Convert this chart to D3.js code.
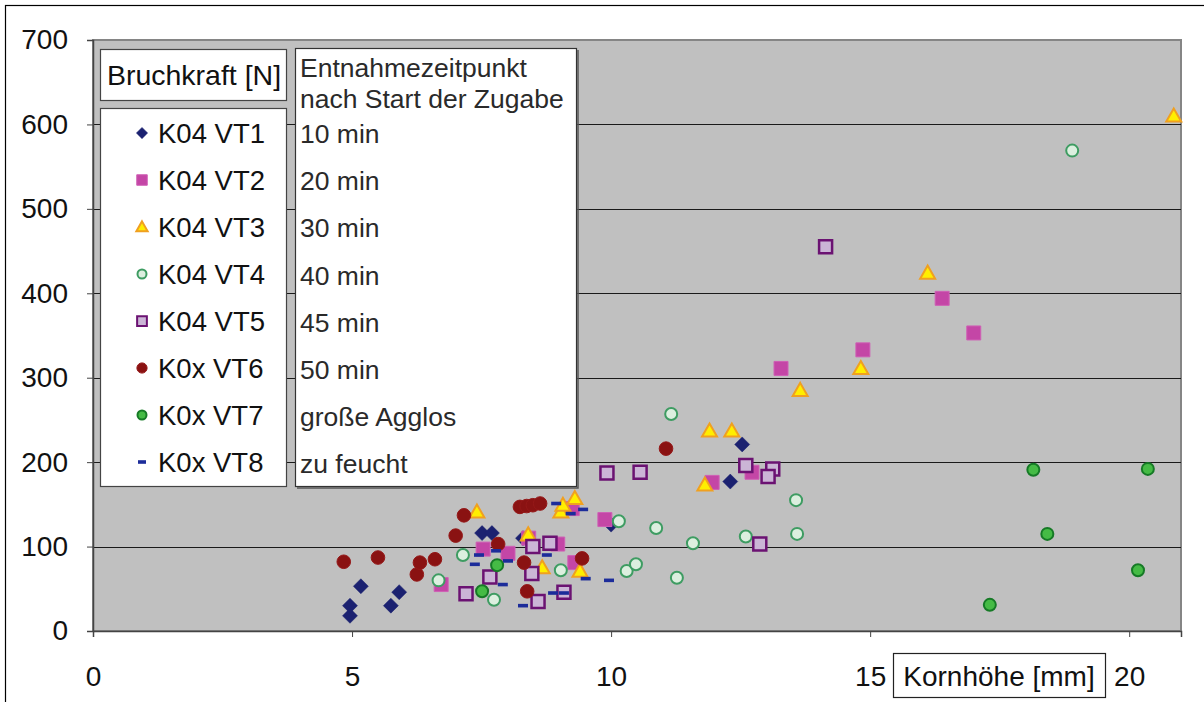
<!DOCTYPE html>
<html><head><meta charset="utf-8">
<script src="https://cdn.jsdelivr.net/npm/d3@7"></script>
<style>body{margin:0;background:#fff}svg{display:block;font-family:"Liberation Sans",Arial,sans-serif}</style>
</head><body><svg id="c" width="1204" height="702"></svg>
<script>
// ---- data ----
const seriesNames = ["K04 VT1","K04 VT2","K04 VT3","K04 VT4","K04 VT5","K0x VT6","K0x VT7","K0x VT8"];
const timeLabels = ["10 min","20 min","30 min","40 min","45 min","50 min","große Agglos","zu feucht"];
const boxTitle = ["Entnahmezeitpunkt","nach Start der Zugabe"];
const yTitle = "Bruchkraft [N]";
const xTitle = "Kornhöhe [mm]";
const xTicks = [0,5,10,15,20];
const yTicks = [0,100,200,300,400,500,600,700];

const vt1 = [[4.96,18],[4.96,30],[5.17,53],[5.75,30],[5.91,46],[7.51,116],[7.70,116],[8.30,110],[10.0,126],[12.30,177],[12.53,221]];
const vt2 = [[6.72,55],[7.53,97],[8.01,92],[8.41,110],[8.97,103],[9.25,145],[9.30,81],[9.88,132],[11.95,176],[12.72,188],[13.28,311],[14.86,333],[16.39,394],[17.00,353]];
const vt3 = [[7.41,141],[8.40,114],[8.67,75],[9.03,141],[9.07,149],[9.30,157],[9.40,71],[11.81,173],[11.90,237],[12.33,237],[13.65,285],[14.82,311],[16.11,424],[20.86,610]];
const vt4 = [[6.67,60],[7.14,90],[7.74,37],[9.03,72],[10.15,130],[10.30,71],[10.48,79],[10.87,122],[11.16,257],[11.27,63],[11.58,104],[12.60,112],[13.57,155],[13.59,115],[18.90,569]];
const vt5 = [[7.20,44],[7.66,64],[8.47,68],[8.49,100],[8.82,104],[8.59,35],[9.09,46],[9.92,187],[10.56,188],[12.60,196],[13.12,192],[13.03,183],[12.87,103],[14.14,455]];
const vt6 = [[4.84,82],[5.50,87],[6.25,67],[6.31,81],[6.60,85],[7.00,113],[7.16,137],[7.82,103],[8.32,81],[8.38,47],[9.44,86],[8.24,147],[8.37,148],[8.49,149],[8.63,151],[11.06,216]];
const vt7 = [[7.80,78],[7.51,47],[17.31,31],[18.15,191],[18.42,115],[20.36,192],[20.17,72]];
const vt8 = [[8.94,151],[9.22,139],[9.46,144],[7.45,90],[7.37,79],[7.78,95],[8.01,83],[7.91,55],[8.76,90],[8.88,45],[9.09,45],[8.30,30],[9.51,62],[9.96,60]];

const seriesData = [vt1,vt2,vt3,vt4,vt5,vt6,vt7,vt8];
const styles = [
  {shape:"diamond", size:7.5, fill:"#1b2170", stroke:"#1b2170", sw:0.5},
  {shape:"square", size:7, fill:"#c446a6", stroke:"#cf5fb5", sw:1},
  {shape:"triangle", size:7.5, fill:"#ffee00", stroke:"#f0a020", sw:2},
  {shape:"circle", size:6, fill:"#dcefdf", stroke:"#3e9c62", sw:2},
  {shape:"square", size:6.5, fill:"#cbb5d6", stroke:"#6b1272", sw:2.5},
  {shape:"circle", size:6.8, fill:"#8a1212", stroke:"#951818", sw:1},
  {shape:"circle", size:6, fill:"#45bb45", stroke:"#167a26", sw:2},
  {shape:"dash", size:5, fill:"#1c2c9a", stroke:"none", sw:0}
];

function shapePath(shape, s){
  if(shape==="diamond") return `M0,${-s}L${s},0L0,${s}L${-s},0Z`;
  if(shape==="square") return `M${-s},${-s}H${s}V${s}H${-s}Z`;
  if(shape==="triangle") return `M0,${-s}L${s},${s*0.75}L${-s},${s*0.75}Z`;
  if(shape==="circle") return d3.symbol(d3.symbolCircle, Math.PI*s*s)();
  if(shape==="dash") return `M${-s},-1.8H${s}V1.8H${-s}Z`;
}

const svg = d3.select("#c");
// outer frame
svg.append("rect").attr("x",5.5).attr("y",5.5).attr("width",1210).attr("height",710)
  .attr("fill","#fff").attr("stroke","#000").attr("stroke-width",1.2);

const x = d3.scaleLinear().domain([0,21]).range([93,1181]);
const y = d3.scaleLinear().domain([0,700]).range([631,40]);

// plot background
svg.append("rect").attr("x",x(0)).attr("y",y(700)).attr("width",x(21)-x(0)).attr("height",y(0)-y(700))
  .attr("fill","#c0c0c0").attr("stroke","#858585").attr("stroke-width",2);

// gridlines
svg.append("g").selectAll("line").data(yTicks.filter(d=>d>0&&d<700)).join("line")
  .attr("x1",x(0)).attr("x2",x(21)).attr("y1",d=>Math.round(y(d))+0.5).attr("y2",d=>Math.round(y(d))+0.5)
  .attr("stroke","#1a1a1a").attr("stroke-width",1);

// axes
const yAxis = d3.axisLeft(y).tickValues(yTicks).tickSize(6).tickPadding(19).tickFormat(d3.format("d"));
const gy = svg.append("g").attr("transform",`translate(${x(0)},0)`).call(yAxis);
const xAxis = d3.axisBottom(x).tickValues(xTicks).tickSize(6).tickPadding(22).tickFormat(d3.format("d"));
const gx = svg.append("g").attr("transform",`translate(0,${y(0)})`).call(xAxis);
[gy,gx].forEach(g=>{
  g.select(".domain").attr("stroke","#444").attr("stroke-width",1.5);
  g.selectAll(".tick line").attr("stroke","#444");
  g.selectAll(".tick text").attr("font-size",28).attr("fill","#111")
   .attr("font-family","'Liberation Sans',Arial,sans-serif");
});
gx.selectAll(".tick text").attr("dy","0.95em");

// points
seriesData.forEach((data,i)=>{
  const st = styles[i];
  svg.append("g").selectAll("path").data(data).join("path")
    .attr("transform",d=>`translate(${x(d[0])},${y(d[1])})`)
    .attr("d",shapePath(st.shape, st.size))
    .attr("fill",st.fill).attr("stroke",st.stroke).attr("stroke-width",st.sw);
});

// legend: title box
const lg = svg.append("g");
lg.append("rect").attr("x",100.5).attr("y",49.5).attr("width",186).attr("height",51)
  .attr("fill","#fff").attr("stroke","#444").attr("stroke-width",1.2);
lg.append("text").attr("x",194).attr("y",75).attr("text-anchor","middle").attr("dominant-baseline","central")
  .attr("font-size",28.5).attr("fill","#111").text(yTitle);

// legend: series box
lg.append("rect").attr("x",100.5).attr("y",108.5).attr("width",186).attr("height",378)
  .attr("fill","#fff").attr("stroke","#444").attr("stroke-width",1.2);
seriesNames.forEach((n,i)=>{
  const cy = 133 + i*47;
  const st = styles[i];
  lg.append("path").attr("transform",`translate(142,${cy})`)
    .attr("d",shapePath(st.shape, st.shape==="dash"?4:st.size*0.75))
    .attr("fill",st.fill).attr("stroke",st.stroke).attr("stroke-width",Math.min(st.sw,2));
  lg.append("text").attr("x",158).attr("y",cy).attr("dominant-baseline","central")
    .attr("font-size",27.5).attr("fill","#111").text(n);
});

// right box
lg.append("rect").attr("x",295.5).attr("y",48.5).attr("width",281).attr("height",438)
  .attr("fill","#fff").attr("stroke","#333").attr("stroke-width",1.2);
lg.append("path").attr("d","M297,488H578V50").attr("fill","none").attr("stroke","#555").attr("stroke-width",1.5);
boxTitle.forEach((t,i)=>{
  lg.append("text").attr("x",300).attr("y",68+i*31).attr("dominant-baseline","central")
    .attr("font-size",26.5).attr("fill","#2a2a2a").text(t);
});
timeLabels.forEach((t,i)=>{
  lg.append("text").attr("x",300).attr("y",134+i*47.2).attr("dominant-baseline","central")
    .attr("font-size",26.5).attr("fill","#2a2a2a").text(t);
});

// x title box
lg.append("rect").attr("x",893.5).attr("y",653.5).attr("width",212).attr("height",44)
  .attr("fill","#fff").attr("stroke","#222").attr("stroke-width",1.2);
lg.append("text").attr("x",999).attr("y",676).attr("text-anchor","middle").attr("dominant-baseline","central")
  .attr("font-size",28).attr("fill","#111").text(xTitle);
</script></body></html>
